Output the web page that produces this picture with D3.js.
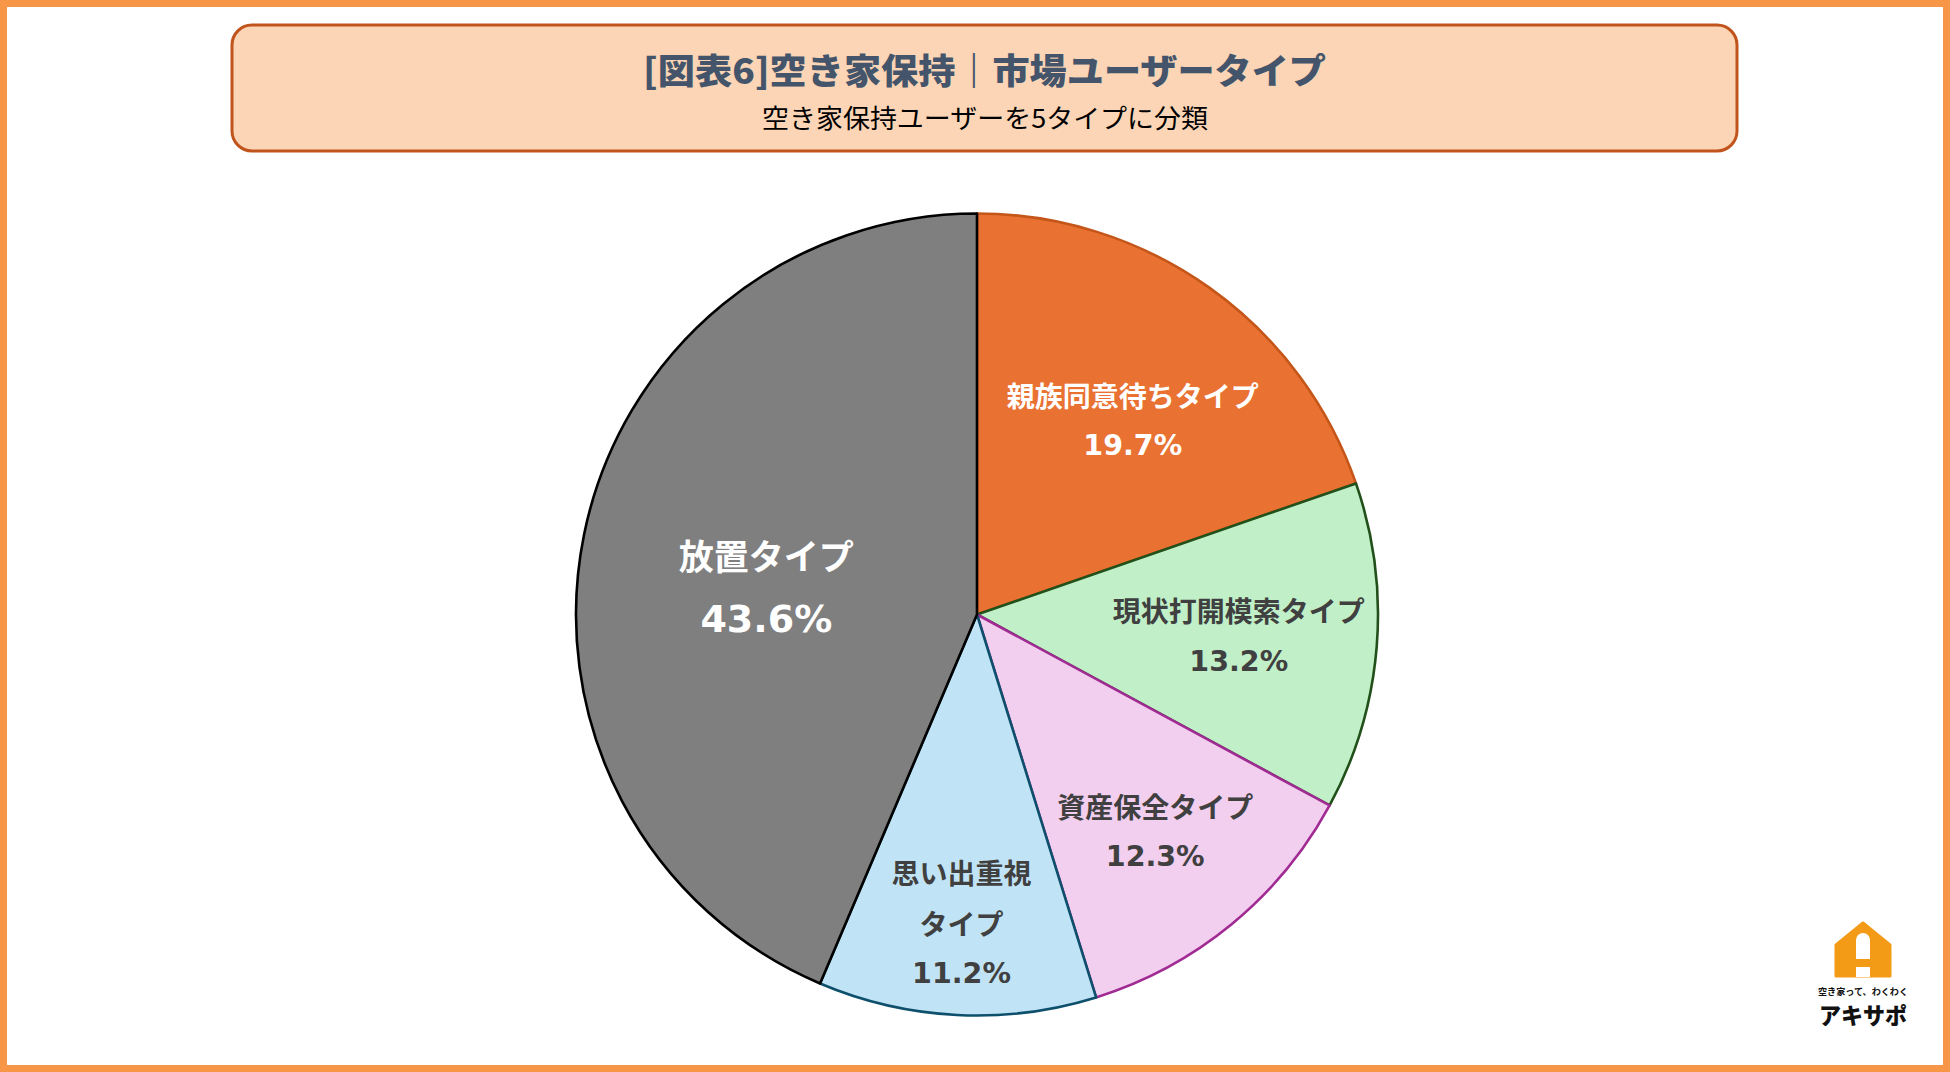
<!DOCTYPE html>
<html lang="ja">
<head>
<meta charset="utf-8">
<script src="https://cdn.jsdelivr.net/npm/d3@7"></script>
<style>
html,body{margin:0;padding:0;background:#fff;}
svg{display:block;}
</style>
</head>
<body>
<svg id="chart" width="1950" height="1072"></svg>
<script>
// ---- data ----
const titleText = "[図表6]空き家保持｜市場ユーザータイプ";
const subtitleText = "空き家保持ユーザーを5タイプに分類";
const categories = ["親族同意待ちタイプ", "現状打開模索タイプ", "資産保全タイプ", "思い出重視タイプ", "放置タイプ"];
const labelLines = [["親族同意待ちタイプ"], ["現状打開模索タイプ"], ["資産保全タイプ"], ["思い出重視", "タイプ"], ["放置タイプ"]];
const values = [19.7, 13.2, 12.3, 11.2, 43.6];

// ---- styles ----
const fills   = ["#E97132", "#C1F0C8", "#F2CEEF", "#C0E4F5", "#7F7F7F"];
const strokes = ["#C4561A", "#22501A", "#A02B93", "#0E4F6C", "#000000"];
const textColors = ["#FFFFFF", "#404040", "#404040", "#404040", "#FFFFFF"];
const labelRadiusFactor = [0.621, 0.655, 0.70, 0.77, 0.53];
const labelAngleShift = [0.057, 0, 0, 0, -0.07];
const CJK = "'Noto Sans CJK JP','Noto Sans',sans-serif";
const NUM = "'DejaVu Sans','Noto Sans',sans-serif";

const svg = d3.select("#chart");
const W = 1950, H = 1072;

svg.append("rect").attr("width", W).attr("height", H).attr("fill", "#fff");
// outer orange frame
svg.append("rect").attr("x", 3.5).attr("y", 3.5).attr("width", W - 7).attr("height", H - 7)
  .attr("fill", "none").attr("stroke", "#F79646").attr("stroke-width", 7);

// header box
svg.append("rect").attr("x", 232).attr("y", 25).attr("width", 1505).attr("height", 126)
  .attr("rx", 20).attr("ry", 20)
  .attr("fill", "#FBD5B5").attr("stroke", "#C0541C").attr("stroke-width", 3);

svg.append("text").attr("x", 984.5).attr("y", 68)
  .attr("text-anchor", "middle").attr("dominant-baseline", "central")
  .style("font-family", CJK)
  .attr("font-size", 35).attr("font-weight", 900).attr("fill", "#44546A")
  .attr("textLength", 683).attr("lengthAdjust", "spacingAndGlyphs")
  .text(titleText);

svg.append("text").attr("x", 985).attr("y", 116)
  .attr("text-anchor", "middle").attr("dominant-baseline", "central")
  .style("font-family", CJK)
  .attr("font-size", 26).attr("font-weight", 400).attr("fill", "#000")
  .attr("textLength", 446).attr("lengthAdjust", "spacingAndGlyphs")
  .text(subtitleText);

// pie
const cx = 977, cy = 614.5, R = 401;
const data = categories.map((c, i) => ({ name: c, value: values[i], i }));
const pie = d3.pie().value(d => d.value).sort(null).startAngle(0).endAngle(2 * Math.PI);
const arcs = pie(data);
const arc = d3.arc().innerRadius(0).outerRadius(R);

const g = svg.append("g").attr("transform", `translate(${cx},${cy})`);
g.selectAll("path.slice").data(arcs).enter().append("path")
  .attr("class", "slice")
  .attr("d", arc)
  .attr("fill", d => fills[d.data.i])
  .attr("stroke", d => strokes[d.data.i])
  .attr("stroke-width", 2.6)
  .attr("stroke-linejoin", "round");

// labels
const lg = g.append("g");
arcs.forEach(d => {
  const i = d.data.i;
  const big = i === 4;
  const mid = (d.startAngle + d.endAngle) / 2 + labelAngleShift[i];
  const rr = R * labelRadiusFactor[i];
  const x = rr * Math.sin(mid), y = -rr * Math.cos(mid);
  const lines = labelLines[i].map(t => ({ t, pct: false }))
    .concat([{ t: d3.format(".1f")(d.data.value) + "%", pct: true }]);
  const step = big ? 64 : 51;
  const y0 = y - (lines.length - 1) * step / 2;
  lines.forEach((ln, k) => {
    lg.append("text")
      .attr("x", x).attr("y", y0 + k * step)
      .attr("text-anchor", "middle").attr("dominant-baseline", "central")
      .style("font-family", ln.pct ? NUM : CJK)
      .attr("font-size", ln.pct ? (big ? 38 : 28.5) : (big ? 35 : 28))
      .attr("font-weight", 700)
      .attr("fill", textColors[i])
      .text(ln.t);
  });
});

// logo (アキサポ)
const logo = svg.append("g").attr("transform", "translate(1863,923)");
logo.append("path")
  .attr("d", "M0,0 L27,22 L27,53 L-27,53 L-27,22 Z")
  .attr("fill", "#F39A16").attr("stroke", "#F39A16").attr("stroke-width", 3).attr("stroke-linejoin", "round");
logo.append("path")
  .attr("d", "M-7,36 L-7,17 A7,7 0 0 1 7,17 L7,36 Z M-7,44 L7,44 L7,54 L-7,54 Z")
  .attr("fill", "#fff");
svg.append("text").attr("x", 1863).attr("y", 991)
  .attr("text-anchor", "middle").attr("dominant-baseline", "central")
  .style("font-family", CJK)
  .attr("font-size", 9).attr("font-weight", 700).attr("fill", "#111")
  .attr("textLength", 90).attr("lengthAdjust", "spacingAndGlyphs")
  .text("空き家って、わくわく");
svg.append("text").attr("x", 1863).attr("y", 1014)
  .attr("text-anchor", "middle").attr("dominant-baseline", "central")
  .style("font-family", CJK)
  .attr("font-size", 23).attr("font-weight", 900).attr("fill", "#111")
  .attr("textLength", 88).attr("lengthAdjust", "spacingAndGlyphs")
  .text("アキサポ");
</script>
</body>
</html>
